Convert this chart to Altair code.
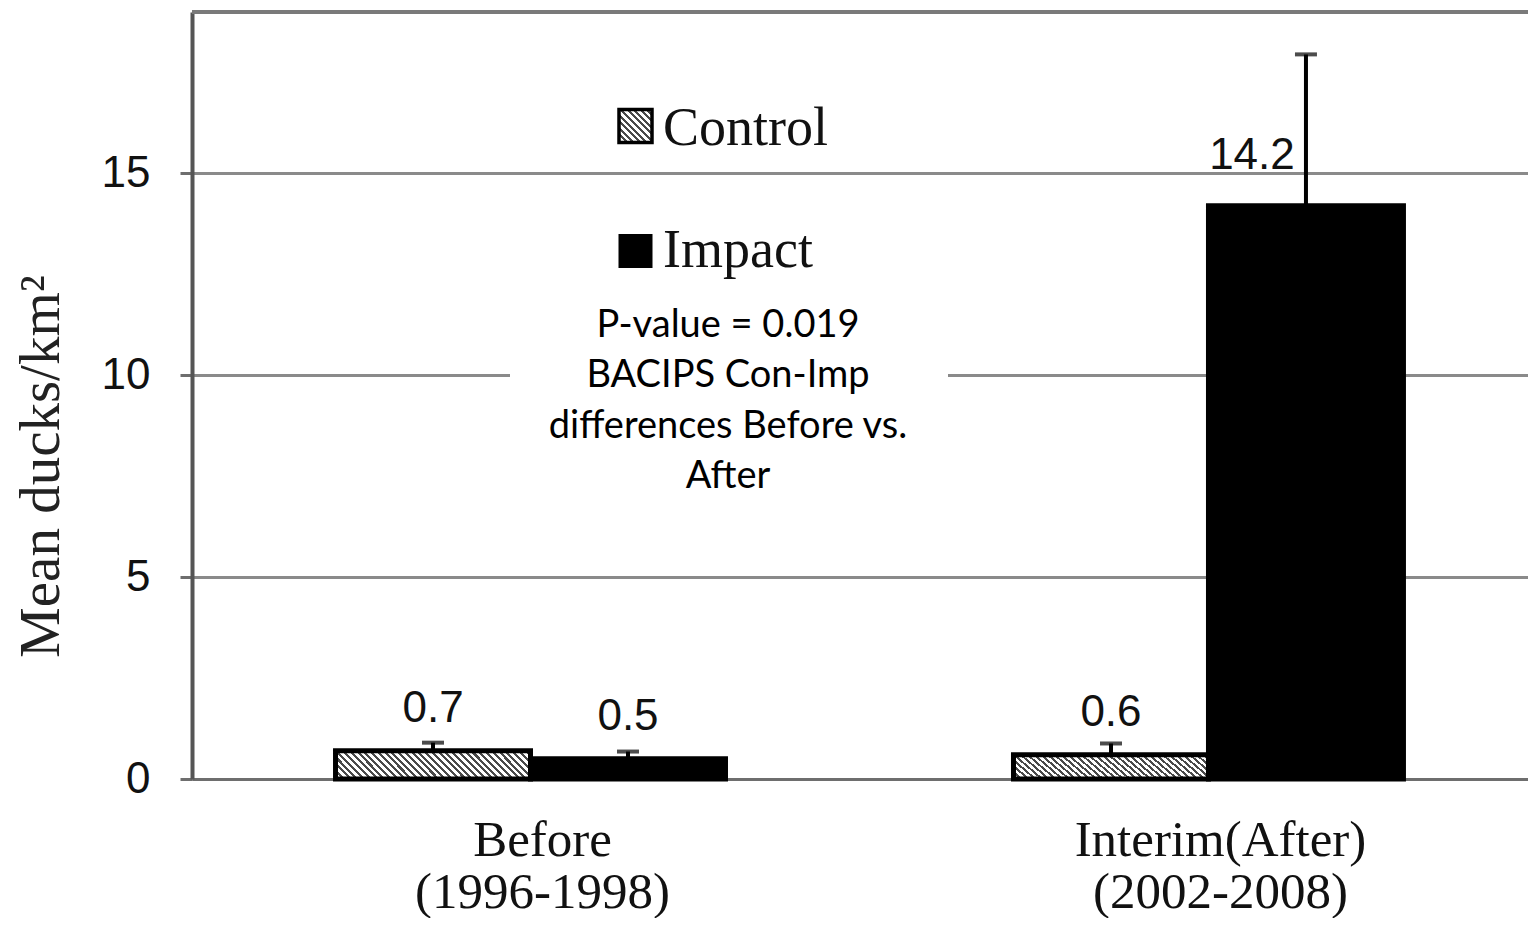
import altair as alt
import pandas as pd

# ---- data ----
period_line1 = ["Before", "Interim(After)"]
period_line2 = ["(1996-1998)", "(2002-2008)"]
groups = ["Control", "Impact"]
control_mean = [0.7, 0.6]
impact_mean = [0.5, 14.2]
control_err = [0.2, 0.28]
impact_err = [0.18, 3.75]
y_ticks = [0, 5, 10, 15]
y_max = 19
y_title = "Mean ducks/km\u00b2"
note_lines = ["P-value = 0.019", "BACIPS Con-Imp", "differences Before vs.", "After"]

periods = [a + "|" + b for a, b in zip(period_line1, period_line2)]
rows = []
for i, p in enumerate(periods):
    rows.append(dict(period=p, group=groups[0], mean=control_mean[i], err=control_err[i]))
    rows.append(dict(period=p, group=groups[1], mean=impact_mean[i], err=impact_err[i]))
df = pd.DataFrame(rows)
one = pd.DataFrame({"k": [0]})


def hatch(n, x1, y1, x2, y2, dark="#4a4a4a", light="#ffffff", frac=0.45):
    stops = []
    for i in range(n):
        a, b, c = i / n, (i + frac) / n, (i + 1) / n
        stops += [
            {"offset": a, "color": dark},
            {"offset": b, "color": dark},
            {"offset": b, "color": light},
            {"offset": c, "color": light},
        ]
    return {"gradient": "linear", "x1": x1, "y1": y1, "x2": x2, "y2": y2, "stops": stops}


bar_hatch = hatch(33, 0, 1, 1.121, 0.839)
sq_hatch = hatch(10, 0, 1, 1, 0)

W, H = 1336, 767

xscale = alt.Scale(domain=periods, paddingInner=0.4248, paddingOuter=0.1977, align=0.5354)
yscale = alt.Scale(domain=[0, y_max], nice=False, zero=True)

xaxis = alt.Axis(
    title=None, labelExpr="split(datum.label, '|')", labelFont="Liberation Serif",
    labelFontSize=51, labelLineHeight=52, labelBaseline="alphabetic", labelPadding=76,
    labelOffset=12, labelAngle=0, labelLimit=0, ticks=False, tickSize=0,
    domainColor="#6e6e6e", domainWidth=3, labelColor="#111111", grid=False, labelOverlap=False,
)
yaxis = alt.Axis(
    values=y_ticks, title=y_title, titleFont="Liberation Serif", titleFontSize=57,
    titleFontWeight="normal", titleColor="#222222", titleAngle=270, titleX=-134, titleY=454,
    titleAlign="center", titleBaseline="alphabetic", labelFont="Liberation Sans",
    labelFontSize=44, labelColor="#111111", labelPadding=30, tickSize=12,
    tickColor="#6e6e6e", tickWidth=3, domainColor="#555555", domainWidth=4,
    gridColor="#8a8a8a", gridWidth=3, grid=True,
)

base = alt.Chart(df).transform_calculate(upper="datum.mean + datum.err").encode(
    x=alt.X("period:N", scale=xscale, axis=xaxis, sort=periods),
    xOffset=alt.XOffset("group:N", scale=alt.Scale(domain=groups, paddingInner=0, paddingOuter=0)),
)

bars_c = base.transform_filter(alt.datum.group == groups[0]).mark_bar(
    fill=bar_hatch, stroke="black", strokeWidth=5
).encode(y=alt.Y("mean:Q", scale=yscale, axis=yaxis))
bars_i = base.transform_filter(alt.datum.group == groups[1]).mark_bar(
    fill="black", stroke="black", strokeWidth=5
).encode(y=alt.Y("mean:Q"))

whisk = base.mark_rule(color="black", strokeWidth=4).encode(y="mean:Q", y2="upper:Q")
caps = base.mark_tick(color="black", size=22, thickness=4, orient="horizontal").encode(y="upper:Q")

lab_small = base.transform_filter(alt.datum.mean < 10).mark_text(
    dy=-29, baseline="alphabetic", font="Liberation Sans", fontSize=44, color="#111111"
).encode(y="mean:Q", text=alt.Text("mean:Q", format=".1f"))
lab_big = base.transform_filter(alt.datum.mean >= 10).mark_text(
    dx=-54, dy=-37, baseline="alphabetic", font="Liberation Sans", fontSize=44, color="#111111"
).encode(y="mean:Q", text=alt.Text("mean:Q", format=".1f"))

top_rule = alt.Chart(one).mark_rule(color="#7a7a7a", strokeWidth=4).encode(y=alt.datum(y_max))

note_box = alt.Chart(one).mark_rect(fill="white").encode(
    x=alt.value(318), x2=alt.value(756), y=alt.value(285), y2=alt.value(490)
)
note = alt.Chart(one).mark_text(
    text=note_lines, font="Lato", fontSize=38, lineHeight=50.3, align="center",
    baseline="alphabetic", color="#000000"
).encode(x=alt.value(536), y=alt.value(325))

leg_sq_c = alt.Chart(one).mark_square(
    size=33 * 33, fill=sq_hatch, stroke="black", strokeWidth=3.5, opacity=1
).encode(x=alt.value(443.5), y=alt.value(114))
leg_sq_i = alt.Chart(one).mark_square(size=34 * 34, fill="black", opacity=1).encode(
    x=alt.value(443.5), y=alt.value(239)
)
leg_tx_c = alt.Chart(one).mark_text(
    text=groups[0], font="Liberation Serif", fontSize=54, align="left",
    baseline="alphabetic", color="#111111"
).encode(x=alt.value(471), y=alt.value(133))
leg_tx_i = alt.Chart(one).mark_text(
    text=groups[1], font="Liberation Serif", fontSize=54, align="left",
    baseline="alphabetic", color="#111111"
).encode(x=alt.value(471), y=alt.value(255))

chart = alt.layer(
    bars_c, bars_i, whisk, caps, lab_small, lab_big, top_rule,
    note_box, note, leg_sq_c, leg_sq_i, leg_tx_c, leg_tx_i,
).properties(
    width=W, height=H,
    padding={"left": 184, "top": 4, "right": 0, "bottom": 139},
    autosize=alt.AutoSizeParams(type="none"),
    background="white",
).configure_view(stroke=None)

chart.save("out.html", embed_options={"renderer": "svg", "actions": False})
